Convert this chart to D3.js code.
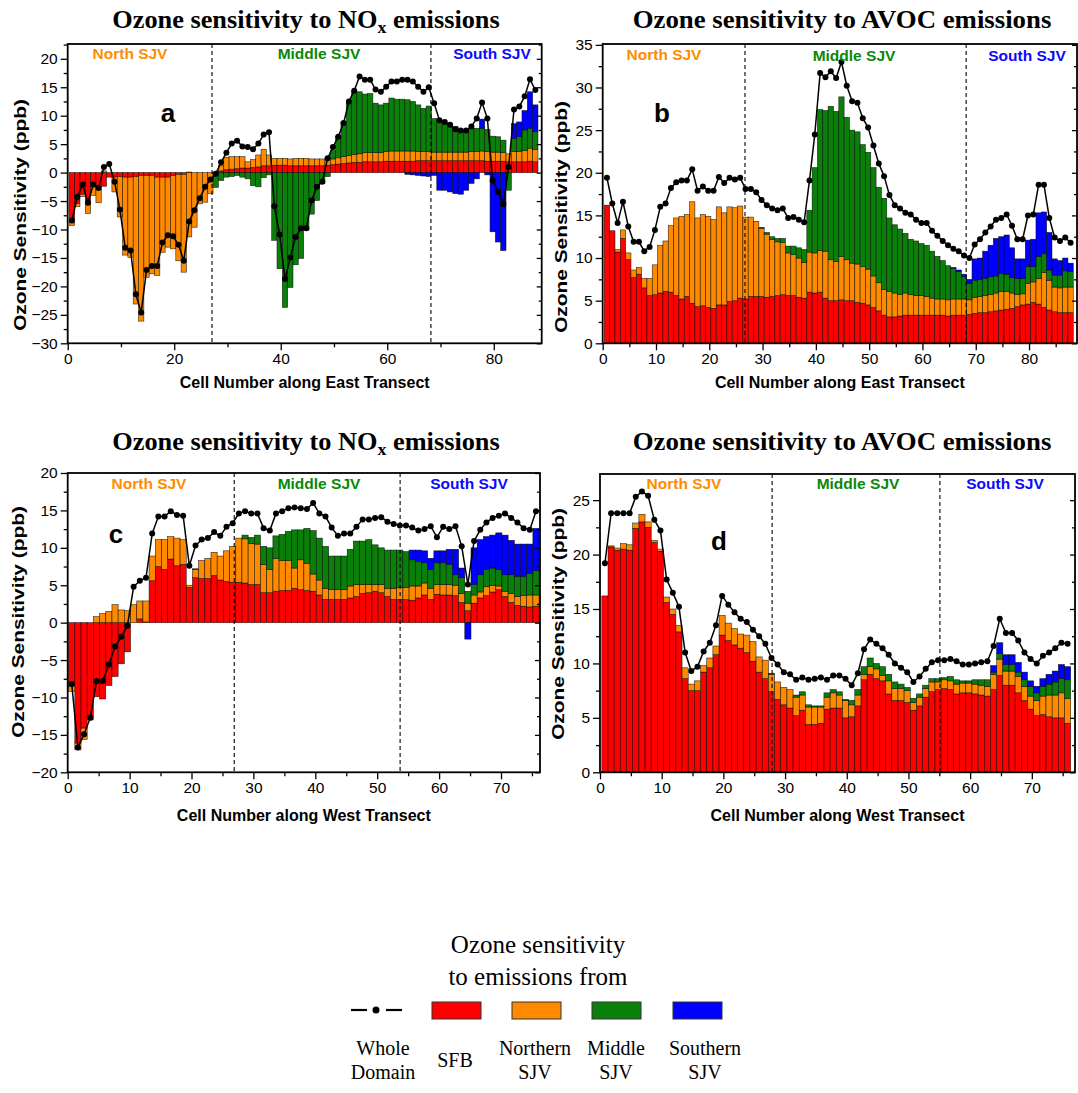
<!DOCTYPE html>
<html>
<head>
<meta charset="utf-8">
<script src="https://cdn.jsdelivr.net/npm/d3@7"></script>
<style>
  body { margin: 0; background: #fff; }
  svg text { font-family: "Liberation Sans", Arial, sans-serif; fill: #000; }
</style>
</head>
<body>
<div id="chart"></div>
<script>
// ---- Panel a: East transect, NOx ----
const aSFB = [-8.4,-5.4,-3.8,-5.3,-2.5,-2.5,-2.4,-0.8,-0.8,-0.7,
  -0.8,-0.8,-0.7,-0.5,-0.5,-0.5,-0.8,-0.8,-0.8,-0.5,
  -0.3,-0.3,0.1,0,0,0,0,0.1,0.3,0.5,
  0.6,0.7,0.8,0.8,0.9,1.0,1.2,1.2,1.3,1.3,
  1.3,1.2,1.2,1.2,1.2,1.2,1.2,1.2,1.3,1.4,
  1.5,1.6,1.7,1.8,1.8,1.9,1.9,1.9,1.9,2.0,
  2.0,2.0,2.0,2.0,2.0,2.1,2.1,2.1,2.1,2.1,
  2.1,2.1,2.1,2.1,2.1,2.1,2.1,2.1,2.0,2.0,
  2.0,2.0,1.9,1.9,1.9,1.9,2.0,1.9];
const aNorth = [-0.9,-0.6,-0.4,-1.9,-1.5,-2.8,0.3,0,-2.6,-7.1,
  -13.7,-14.1,-22.4,-25.6,-17.9,-17.3,-17.3,-13.2,-12.3,-12.9,
  -15.2,-17.2,-11.3,-9.6,-5.5,-5.2,-3.7,-0.6,1.0,2.2,
  2.2,2.1,2.0,1.1,1.4,2.1,2.9,1.9,1.2,1.2,
  1.2,1.2,1.3,1.3,1.3,1.2,1.2,1.2,0.9,1.0,
  1.1,1.2,1.3,1.4,1.5,1.6,1.6,1.6,1.6,1.7,
  1.8,1.8,1.8,1.8,1.8,1.6,1.6,1.6,1.5,1.5,
  1.5,1.5,1.5,1.5,1.5,1.6,1.6,1.7,1.7,1.6,
  1.6,1.5,1.4,1.8,1.8,2.0,2.3,2.2];
const aMiddle = [0,0,0,0,0,0,0,0,0,0,
  0,0,0,0,0,0,0,0,0,0,
  0,0,0,0,0,0,0,-2.0,-1.4,-0.8,
  -0.7,-0.5,-0.8,-1.1,-2.3,-2.5,-0.9,-0.4,-11.9,-16.9,
  -23.7,-20.2,-16.2,-15.1,-10.1,-7.3,-4.9,-1.9,-0.7,1.5,
  3.7,6.1,9.2,11.0,10.9,10.3,10.4,8.7,8.4,8.5,
  9.3,9.1,9.1,9.0,8.7,8.2,7.6,8.0,5.9,5.3,
  5.0,4.8,4.5,4.0,3.9,4.1,4.1,4.0,3.9,2.8,
  2.7,2.2,-3.1,2.3,2.6,3.6,3.5,3.1];
const aSouth = [0,0,0,0,0,0,0,0,0,0,
  0,0,0,0,0,0,0,0,0,0,
  0,0,0,0,0,0,0,0,0,0,
  0,0,0,0,0,0,0,0,0,0,
  0,0,0,0,0,0,0,0,0,0,
  0,0,0,0,0,0,0,0,0,0,
  0,0,0,-0.3,-0.4,-0.5,-0.6,-0.7,-0.5,-3.1,
  -3.1,-3.4,-3.7,-3.8,-3.1,-1.9,-1.1,1.6,-0.4,-10.4,
  -12.2,-13.7,0,2.6,2.6,3.4,6.4,4.7];
const aWhole = [-8.4,-4.3,-2.1,-5.3,-2.1,-2.7,1.0,1.5,-1.6,-6.5,
  -13.2,-13.7,-21.4,-24.6,-17.1,-16.4,-16.4,-12.3,-11.0,-11.2,
  -12.7,-15.5,-8.6,-6.6,-4.5,-2.5,-1.2,-0.2,1.8,3.5,
  5.1,5.6,4.6,4.5,4.1,5.1,6.7,7.1,-5.9,-10.9,
  -18.7,-14.9,-11.3,-9.8,-9.8,-4.9,-2.5,-1.6,2.5,4.5,
  6.3,8.7,12.5,14.4,16.9,16.3,16.3,14.6,14.2,15.1,
  16.0,16.0,16.3,16.3,16.0,15.1,14.2,15.0,12.2,9.2,
  8.9,8.4,7.6,7.4,7.4,8.1,9.5,12.3,9.5,-1.4,
  -3.4,-5.5,1.0,11.1,11.6,13.4,16.4,14.5];

// ---- Panel b: East transect, AVOC ----
const bSFB = [16.2,13.2,10.7,12.3,9.8,7.7,8.1,6.5,5.6,5.7,
  5.9,6.1,6.0,5.6,5.2,5.5,4.7,4.3,4.4,4.2,
  4.1,4.5,4.5,4.9,5.0,5.3,5.2,5.5,5.5,5.5,
  5.4,5.5,5.6,5.7,5.6,5.6,5.4,5.3,6.0,5.9,
  6.0,5.3,5.0,5.0,5.1,5.0,5.0,4.8,4.7,4.5,
  4.2,3.8,3.3,3.1,3.1,3.2,3.3,3.3,3.3,3.3,
  3.3,3.3,3.3,3.3,3.2,3.3,3.3,3.3,3.4,3.5,
  3.6,3.6,3.7,3.8,3.9,4.0,4.1,4.3,4.5,4.6,
  4.8,4.6,4.2,3.9,3.7,3.6,3.6,3.6];
const bNorth = [0,0,0.3,1.0,0.8,0.9,0.8,1.1,2.0,3.5,
  5.6,5.9,7.8,9.1,9.7,9.6,11.9,10.4,10.7,10.7,
  10.4,11.5,10.8,11.1,10.9,10.8,9.6,9.3,8.8,8.0,
  7.4,6.7,6.3,6.1,5.0,4.8,4.6,4.2,4.7,4.7,
  4.9,5.5,4.8,4.6,5.1,4.8,4.4,4.5,4.3,4.2,
  3.7,3.3,3.0,3.0,2.8,2.5,2.6,2.4,2.3,2.3,
  2.2,2.0,1.9,1.9,1.9,1.9,1.9,1.9,1.7,1.9,
  1.9,2.0,2.0,2.1,2.2,2.1,1.8,1.4,1.3,2.4,
  2.4,3.0,4.1,3.5,2.9,2.9,3.0,3.0];
const bMiddle = [0,0,0,0,0,0,0,0,0,0,
  0,0,0,0,0,0,0,0,0,0,
  0,0,0,0,0,0,0,0,0,0.1,
  0.2,0.3,0.4,0.5,0.8,1.0,1.2,1.5,4.9,10.0,
  16.5,16.5,18.0,17.6,18.7,16.7,15.6,15.5,14.3,13.7,
  12.7,11.2,10.7,8.6,8.0,7.7,7.0,6.5,6.4,6.1,
  6.0,5.5,5.0,4.5,4.0,3.6,3.2,2.6,1.9,2.0,
  2.0,2.0,2.1,2.0,2.1,2.0,1.8,1.9,1.8,2.0,
  1.8,2.6,2.2,1.2,1.4,1.5,1.9,1.8];
const bSouth = [0,0,0,0,0,0,0,0,0,0,
  0,0,0,0,0,0,0,0,0,0,
  0,0,0,0,0,0,0,0,0,0,
  0,0,0,0,0,0,0,0,0,0,
  0,0,0,0,0,0,0,0,0,0,
  0,0,0,0,0,0,0,0,0,0,
  0,0,0,0,0,0.1,0.2,0.3,0.5,2.5,
  2.5,3.2,3.7,4.4,4.3,4.6,3.5,2.3,2.3,3.1,
  3.2,5.1,4.9,4.4,1.9,1.7,1.5,1.0];
const bWhole = [19.4,16.4,14.1,16.6,13.7,11.9,11.9,10.8,11.3,13.3,
  16.0,16.4,18.2,18.9,19.1,19.1,20.4,17.9,18.4,17.9,
  17.9,19.5,18.8,19.4,19.2,19.4,18.1,18.1,17.7,16.8,
  16.2,15.8,15.6,15.8,14.7,14.8,14.5,14.2,19.1,24.5,
  31.7,31.2,31.9,31.1,33.0,30.2,28.4,28.2,26.4,25.3,
  23.2,21.1,19.6,17.4,16.2,15.8,15.3,15.1,14.5,14.1,
  14.1,13.2,12.6,12.0,11.5,11.1,10.8,10.3,10.0,11.6,
  12.2,13.0,13.7,14.5,14.7,15.1,13.8,12.2,12.2,15.0,
  15.1,18.6,18.6,14.7,12.4,12.0,12.4,11.8];

// ---- Panel c: West transect, NOx ----
const cSFB = [-8.5,-16.1,-14.1,-12.5,-9.9,-10.2,-8.4,-7.2,-5.5,-3.9,
  0,0.5,0.1,5.6,7.5,7.1,8.5,7.6,7.8,4.7,
  6.0,5.9,5.9,6.3,5.7,5.5,5.4,5.4,5.3,5.1,
  5.1,4.0,4.0,4.2,4.3,4.3,4.6,4.4,4.3,4.2,
  3.7,3.1,3.1,3.1,3.1,3.3,3.5,3.9,4.0,4.2,
  4.0,3.5,3.1,3.1,3.1,3.0,3.3,3.7,3.1,3.8,
  3.7,3.7,3.6,2.7,1.6,2.6,3.3,3.6,4.1,4.4,
  3.5,2.7,2.3,2.2,2.1,2.2];
const cNorth = [-0.7,-0.9,-1.5,-0.5,0.8,1.2,1.5,2.4,1.7,1.6,
  2.4,2.4,2.8,3.3,3.6,4.0,3.0,3.7,3.3,0.3,
  1.1,2.4,2.7,3.1,3.2,4.1,4.8,5.9,5.9,5.5,
  5.4,3.8,3.1,4.4,4.0,4.0,2.7,4.0,3.6,2.3,
  2.0,1.5,1.3,1.3,1.3,1.6,1.6,1.2,1.1,0.9,
  1.1,1.1,1.5,1.6,1.6,1.9,1.6,1.6,1.5,1.3,
  1.4,1.4,1.4,1.2,1.0,1.1,0.8,1.2,0.9,0.5,
  0.7,1.2,1.2,1.4,1.6,1.5];
const cMiddle = [0,0,0,0,0,0,0,0,0,0,
  0,0,0,0,0,0,0,0,0,0,
  0.1,0,0,0,0,0,0,0,0.5,0.8,
  1.2,2.4,2.9,3.0,3.5,3.9,5.1,4.0,4.7,5.8,
  5.6,5.6,4.5,4.5,4.5,4.9,5.8,5.8,6.0,5.3,
  4.9,5.1,5.1,5.0,4.8,3.5,3.3,2.7,2.5,2.9,
  2.9,2.7,1.4,2.1,1.6,1.4,2.3,2.3,2.3,2.2,
  2.2,2.5,2.7,2.6,2.9,3.3];
const cSouth = [0,0,0,0,0,0,0,0,0,0,
  0,0,0,0,0,0,0,0,0,0,
  0,0,0,0,0,0,0,0,0,0,
  0,0,0,0,0,0,0,0,0,0,
  0,0,0,0,0,0,0,0,0,0,
  0,0,0,0,0,1.3,1.5,1.6,1.5,1.6,
  1.6,2.0,3.4,1.3,-2.2,4.9,4.7,4.4,4.4,4.9,
  5.3,4.6,4.3,4.3,3.9,5.6];
const cWhole = [-8.2,-16.7,-14.9,-12.7,-7.8,-7.8,-5.6,-3.2,-1.9,-0.4,
  4.8,5.6,6.0,11.9,14.2,14.2,14.9,14.4,14.3,7.6,
  10.3,11.1,11.3,12.1,11.6,12.8,13.3,14.6,14.9,14.6,
  14.6,12.6,12.3,14.6,14.9,15.3,15.4,15.3,15.2,16.0,
  14.6,14.2,12.7,11.6,11.9,11.9,12.8,13.8,13.8,14.0,
  14.1,13.5,13.2,13.0,13.0,12.7,12.3,12.5,12.9,11.4,
  12.8,12.5,12.9,10.2,5.1,10.9,12.4,13.4,14.0,14.3,
  14.6,14.0,13.4,12.6,12.4,14.9];

// ---- Panel d: West transect, AVOC ----
const dSFB = [16.2,20.7,20.4,20.5,20.4,22.4,23.0,22.5,21.1,20.3,
  15.6,14.5,12.9,8.6,7.5,7.5,9.2,9.6,10.8,12.6,
  12.1,11.7,11.4,11.0,10.2,9.2,8.6,7.4,6.7,6.2,
  5.9,5.2,5.7,4.4,4.4,4.5,5.8,5.9,5.9,5.0,
  5.1,6.1,8.5,9.0,8.6,8.4,7.2,6.6,6.6,6.4,
  5.7,6.1,6.9,7.4,7.6,7.7,7.6,7.2,7.3,7.3,
  7.2,7.1,7.0,7.6,8.9,8.0,8.0,7.3,6.6,5.8,
  5.2,5.3,5.1,5.0,5.0,4.5];
const dNorth = [0,0.1,0.2,0.5,0.5,0.5,0.7,0.5,0.2,0.2,
  0.5,0.5,0.6,1.0,0.6,0.9,0.6,0.9,0.8,1.8,
  1.6,1.5,1.3,1.6,1.8,1.4,1.7,1.6,1.6,1.6,
  1.7,1.7,1.4,1.6,1.6,1.5,1.1,1.4,1.2,1.6,
  1.1,1.0,0.5,0.7,0.9,0.5,1.2,1.1,1.1,1.1,
  0.7,0.8,0.8,0.9,0.7,0.8,0.8,0.9,0.9,0.9,
  0.9,0.9,0.9,1.4,1.5,1.3,1.3,1.5,1.3,1.2,
  1.4,1.7,2.0,2.1,2.3,2.3];
const dMiddle = [0,0,0,0,0,0,0,0,0,0,
  0,0,0,0,0,0,0,0,0,0,
  0,0,0,0,0,0,0,0.1,0,0,
  0,0.2,0.3,0.2,0.1,0.1,0.4,0.3,0.3,0.1,
  0.4,0.5,0.7,0.8,0.5,0.8,0.6,0.6,0.4,0.3,
  0.4,0.3,0.3,0.3,0.3,0.2,0.4,0.4,0.2,0.2,
  0.4,0.5,0.6,0.2,0.5,0.6,0.6,0.4,0.6,0.9,
  0.7,0.9,1.0,1.2,1.3,1.7];
const dSouth = [0,0,0,0,0,0,0,0,0,0,
  0,0,0,0,0,0,0,0,0,0,
  0,0,0,0,0,0,0,0,0,0,
  0,0,0,0,0,0,0,0,0,0,
  0,0,0,0,0,0,0,0,0,0,
  0,0,0,0,0,0,0,0,0,0,
  0,0,0,0.6,1.0,0.9,0.9,0.9,0.7,0.5,
  0.6,0.7,0.9,1.0,1.3,1.2];
const dWhole = [19.2,23.8,23.8,23.8,23.8,25.3,25.8,25.4,23.2,22.2,
  17.7,16.5,15.2,11.0,9.3,9.7,11.1,11.9,13.5,16.2,
  15.4,14.7,14.1,13.8,13.1,12.5,11.8,10.5,9.9,9.2,
  9.0,8.5,8.7,8.5,8.6,8.7,8.5,8.9,8.9,8.6,
  8.0,9.1,11.3,12.2,11.8,11.4,10.8,10.0,9.6,9.2,
  8.3,8.8,9.5,10.1,10.3,10.3,10.4,10.2,9.9,9.9,
  10.0,10.1,10.2,11.6,14.1,12.8,12.8,12.1,11.0,10.4,
  10.0,10.7,11.0,11.4,11.9,11.8];

// ticks and labels
const yTicksA = [-30,-25,-20,-15,-10,-5,0,5,10,15,20];
const yTicksB = [0,5,10,15,20,25,30,35];
const yTicksC = [-20,-15,-10,-5,0,5,10,15,20];
const yTicksD = [0,5,10,15,20,25];
const xTicksA = [0,20,40,60,80];
const xTicksB = [0,10,20,30,40,50,60,70,80];
const xTicksWest = [0,10,20,30,40,50,60,70];
const regionNames = ["North SJV", "Middle SJV", "South SJV"];
const legendLabels = [["Whole","Domain"],["SFB"],["Northern","SJV"],["Middle","SJV"],["Southern","SJV"]];

const keys = ["sfb", "north", "middle", "south"];
const colors = { sfb: "#ff0000", north: "#ff8a00", middle: "#0a800a", south: "#0000ff" };
const regionColors = ["#ff8c00", "#0a880a", "#0a0aff"];

const svg = d3.select("#chart").append("svg")
  .attr("width", 1078)
  .attr("height", 1093);

// squeeze a text (drawn at 0,0, anchor middle) to a given width
function fitWidth(text, cx, cy, target, rotate) {
  const w = text.node().getBBox().width;
  const s = target / w;
  text.attr("transform", `translate(${cx},${cy})${rotate ? " rotate(-90)" : ""} scale(${s},1)`);
}

const panels = [
  { key: "a", series: [aSFB, aNorth, aMiddle, aSouth], whole: aWhole,
    box: { left: 67.7, right: 541.7, top: 44, bottom: 343.3 },
    xDomain: [0, 89], yDomain: [-30, 22.6], shift: 0.2,
    xTicks: xTicksA, xMinorStep: 10, yTicks: yTicksA,
    dividers: [27.1, 68.2], regions: [[130, 59], [319, 59], [492, 59]],
    letter: [168, 122], xTitle: "Cell Number along East Transect", xTitleY: 388,
    yTitleX: 26, yTitleY: 215 },
  { key: "b", series: [bSFB, bNorth, bMiddle, bSouth], whole: bWhole,
    box: { left: 602.7, right: 1077, top: 44, bottom: 343.3 },
    xDomain: [0, 89], yDomain: [0, 35.1], shift: 0.2,
    xTicks: xTicksB, xMinorStep: 5, yTicks: yTicksB,
    dividers: [26.7, 68.2], regions: [[664, 60], [854, 61], [1027, 61]],
    letter: [662, 122], xTitle: "Cell Number along East Transect", xTitleY: 388,
    yTitleX: 567, yTitleY: 217 },
  { key: "c", series: [cSFB, cNorth, cMiddle, cSouth], whole: cWhole,
    box: { left: 67.7, right: 540, top: 473, bottom: 772.3 },
    xDomain: [0, 76.3], yDomain: [-20, 20], shift: 0.35,
    xTicks: xTicksWest, xMinorStep: 5, yTicks: yTicksC,
    dividers: [26.9, 53.7], regions: [[149, 489], [319, 489], [469, 489]],
    letter: [116, 543], xTitle: "Cell Number along West Transect", xTitleY: 821,
    yTitleX: 24, yTitleY: 622 },
  { key: "d", series: [dSFB, dNorth, dMiddle, dSouth], whole: dWhole,
    box: { left: 600, right: 1075, top: 474, bottom: 772.3 },
    xDomain: [0, 77], yDomain: [0, 27.4], shift: 0.2,
    xTicks: xTicksWest, xMinorStep: 5, yTicks: yTicksD,
    dividers: [27.9, 55.1], regions: [[684, 489], [858, 489], [1005, 489]],
    letter: [719, 550], xTitle: "Cell Number along West Transect", xTitleY: 821,
    yTitleX: 564, yTitleY: 624 }
];

function drawPanel(p) {
  const { left, right, top, bottom } = p.box;
  const x = d3.scaleLinear().domain(p.xDomain).range([left, right]);
  const y = d3.scaleLinear().domain(p.yDomain).range([bottom, top]);
  const g = svg.append("g");

  const rows = p.whole.map((w, i) => ({
    cell: i + 1, sfb: p.series[0][i], north: p.series[1][i],
    middle: p.series[2][i], south: p.series[3][i], whole: w
  }));
  const layers = d3.stack().keys(keys).offset(d3.stackOffsetDiverging)(rows);

  svg.append("clipPath").attr("id", "clip-" + p.key)
    .append("rect")
    .attr("x", left).attr("y", top)
    .attr("width", right - left).attr("height", bottom - top);

  // y title first so tick labels sit over it
  const yt = g.append("text")
    .attr("text-anchor", "middle")
    .attr("font-size", "16px")
    .attr("font-weight", "bold")
    .text("Ozone Sensitivity (ppb)");
  fitWidth(yt, p.yTitleX, p.yTitleY, 232, true);

  const bw = x(1) - x(0);
  const bars = g.append("g").attr("clip-path", `url(#clip-${p.key})`);
  layers.forEach(layer => {
    bars.append("g").selectAll("rect")
      .data(layer.filter(d => d[1] !== d[0]))
      .join("rect")
      .attr("x", d => x(d.data.cell - p.shift) - bw / 2)
      .attr("width", bw)
      .attr("y", d => y(Math.max(d[0], d[1])))
      .attr("height", d => Math.abs(y(d[0]) - y(d[1])))
      .attr("fill", colors[layer.key])
      .attr("stroke", "#000")
      .attr("stroke-width", 0.6)
      .attr("stroke-opacity", 0.8);
  });

  // region dividers
  g.selectAll(".divider")
    .data(p.dividers)
    .join("line")
    .attr("x1", d => x(d)).attr("x2", d => x(d))
    .attr("y1", top).attr("y2", bottom)
    .attr("stroke", "#000")
    .attr("stroke-width", 1.1)
    .attr("stroke-dasharray", "4,3");

  // whole-domain line and dots
  const line = d3.line()
    .x(d => x(d.cell - p.shift))
    .y(d => y(d.whole));
  g.append("path")
    .datum(rows)
    .attr("fill", "none")
    .attr("stroke", "#000")
    .attr("stroke-width", 1.5)
    .attr("d", line);
  g.append("g").selectAll("circle")
    .data(rows)
    .join("circle")
    .attr("cx", d => x(d.cell - p.shift))
    .attr("cy", d => y(d.whole))
    .attr("r", 3)
    .attr("fill", "#000");

  // axes
  const yMinor = d3.range(p.yTicks[0] + 2.5, p.yDomain[1], 5);
  const xMinor = d3.range(p.xMinorStep, p.xDomain[1], p.xMinorStep * 2);

  const yAxis = g.append("g")
    .attr("transform", `translate(${left},0)`)
    .call(d3.axisLeft(y).tickValues(p.yTicks).tickSize(7).tickPadding(3));
  g.append("g")
    .attr("transform", `translate(${left},0)`)
    .call(d3.axisLeft(y).tickValues(yMinor).tickSize(4).tickFormat(""));
  g.append("g")
    .attr("transform", `translate(${right},0)`)
    .call(d3.axisLeft(y).tickValues(p.yTicks).tickSize(5).tickFormat(""));
  g.append("g")
    .attr("transform", `translate(${right},0)`)
    .call(d3.axisLeft(y).tickValues(yMinor).tickSize(3).tickFormat(""));
  const xAxis = g.append("g")
    .attr("transform", `translate(0,${bottom})`)
    .call(d3.axisBottom(x).tickValues(p.xTicks).tickSize(7).tickPadding(3));
  g.append("g")
    .attr("transform", `translate(0,${bottom})`)
    .call(d3.axisBottom(x).tickValues(xMinor).tickSize(4).tickFormat(""));

  g.selectAll(".domain").remove();
  g.selectAll(".tick line").attr("stroke", "#000").attr("stroke-width", 1.3);
  [yAxis, xAxis].forEach(ax => ax.selectAll("text")
    .attr("font-size", "15.5px")
    .style("font-family", "'Liberation Sans', Arial, sans-serif"));

  // frame
  g.append("rect")
    .attr("x", left).attr("y", top)
    .attr("width", right - left).attr("height", bottom - top)
    .attr("fill", "none")
    .attr("stroke", "#000")
    .attr("stroke-width", 1.8);

  // region labels
  g.selectAll(".region")
    .data(regionNames)
    .join("text")
    .attr("x", (d, i) => p.regions[i][0])
    .attr("y", (d, i) => p.regions[i][1])
    .attr("text-anchor", "middle")
    .attr("font-size", "15.5px")
    .attr("font-weight", "bold")
    .style("fill", (d, i) => regionColors[i])
    .text(d => d);

  // panel letter
  g.append("text")
    .attr("x", p.letter[0]).attr("y", p.letter[1])
    .attr("text-anchor", "middle")
    .attr("font-size", "26px")
    .attr("font-weight", "bold")
    .text(p.key);

  // x axis title
  g.append("text")
    .attr("x", (left + right) / 2).attr("y", p.xTitleY)
    .attr("text-anchor", "middle")
    .attr("font-size", "16px")
    .attr("font-weight", "bold")
    .text(p.xTitle);
}

panels.forEach(drawPanel);

// panel titles
const titles = [
  { pre: "Ozone sensitivity to NO", sub: "x", post: " emissions", cx: 306, y: 28, w: 388 },
  { pre: "Ozone sensitivity to AVOC emissions", sub: "", post: "", cx: 842, y: 28, w: 419 },
  { pre: "Ozone sensitivity to NO", sub: "x", post: " emissions", cx: 306, y: 450, w: 388 },
  { pre: "Ozone sensitivity to AVOC emissions", sub: "", post: "", cx: 842, y: 450, w: 419 }
];
titles.forEach(t => {
  const txt = svg.append("text")
    .attr("text-anchor", "middle")
    .attr("font-size", "25px")
    .attr("font-weight", "bold")
    .style("font-family", "'Liberation Serif', 'Times New Roman', serif");
  txt.append("tspan").text(t.pre);
  if (t.sub) {
    txt.append("tspan").attr("dy", 5).attr("font-size", "17px").text(t.sub);
    txt.append("tspan").attr("dy", -5).text(t.post);
  }
  fitWidth(txt, t.cx, t.y, t.w, false);
});

// legend
const serif = "'Liberation Serif', 'Times New Roman', serif";
const legend = svg.append("g");
["Ozone sensitivity", "to emissions from"].forEach((s, i) => {
  legend.append("text")
    .attr("x", 538).attr("y", 953 + i * 32)
    .attr("text-anchor", "middle")
    .attr("font-size", "25px")
    .style("font-family", serif)
    .text(s);
});
const symY = 1010;
legend.append("line").attr("x1", 351).attr("x2", 367).attr("y1", symY).attr("y2", symY)
  .attr("stroke", "#000").attr("stroke-width", 2.2);
legend.append("line").attr("x1", 386).attr("x2", 402).attr("y1", symY).attr("y2", symY)
  .attr("stroke", "#000").attr("stroke-width", 2.2);
legend.append("circle").attr("cx", 376).attr("cy", symY).attr("r", 3.5).attr("fill", "#000");
const boxX = [432, 512, 592, 673];
keys.forEach((k, i) => {
  legend.append("rect")
    .attr("x", boxX[i]).attr("y", 1002)
    .attr("width", 49).attr("height", 17)
    .attr("fill", colors[k])
    .attr("stroke", "#333")
    .attr("stroke-width", 1);
});
const labelX = [383, 455, 535, 616, 705];
legendLabels.forEach((lines, i) => {
  const y0 = lines.length === 1 ? 1067 : 1055;
  lines.forEach((s, j) => {
    legend.append("text")
      .attr("x", labelX[i]).attr("y", y0 + j * 24)
      .attr("text-anchor", "middle")
      .attr("font-size", "20px")
      .style("font-family", serif)
      .text(s);
  });
});
</script>
</body>
</html>
